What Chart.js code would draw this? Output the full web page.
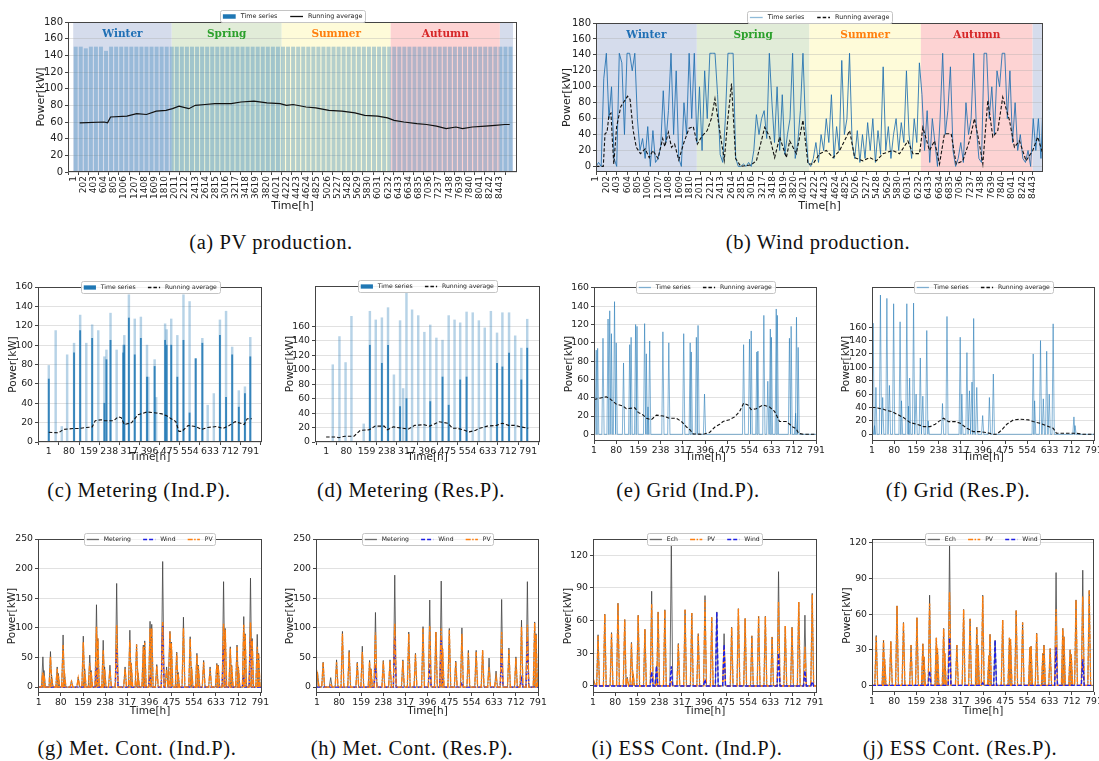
<!DOCTYPE html>
<html>
<head>
<meta charset="utf-8">
<script src="https://cdn.jsdelivr.net/npm/chart.js@4.4.1/dist/chart.umd.min.js"></script>
<style>
  body { margin: 0; background: #fff; width: 1099px; height: 761px; position: relative; overflow: hidden; }
  canvas { position: absolute; }
  .cap { position: absolute; font-family: "Liberation Serif", serif; font-size: 20.5px; letter-spacing: 0.6px;
         color: #111; transform: translate(-50%, -50%); white-space: nowrap; }
</style>
</head>
<body>
<div class="cap" style="left:271px;top:242px">(a) PV production.</div>
<div class="cap" style="left:818px;top:242px">(b) Wind production.</div>
<div class="cap" style="left:139px;top:490px">(c) Metering (Ind.P).</div>
<div class="cap" style="left:411px;top:490px">(d) Metering (Res.P).</div>
<div class="cap" style="left:688px;top:490px">(e) Grid (Ind.P).</div>
<div class="cap" style="left:958px;top:490px">(f) Grid (Res.P).</div>
<div class="cap" style="left:137px;top:748px">(g) Met. Cont. (Ind.P).</div>
<div class="cap" style="left:412px;top:748px">(h) Met. Cont. (Res.P).</div>
<div class="cap" style="left:687px;top:748px">(i) ESS Cont. (Ind.P).</div>
<div class="cap" style="left:960px;top:748px">(j) ESS Cont. (Res.P).</div>
<script>
// ---- tick labels ----
const yearTicks = [1, 202, 403, 604, 805, 1006, 1207, 1408, 1609, 1810, 2011, 2212, 2413, 2614, 2815, 3016,
  3217, 3418, 3619, 3820, 4021, 4222, 4423, 4624, 4825, 5026, 5227, 5428, 5629, 5830, 6031, 6232, 6433,
  6634, 6835, 7036, 7237, 7438, 7639, 7840, 8041, 8242, 8443];
const monthTicks = [1, 80, 159, 238, 317, 396, 475, 554, 633, 712, 791];
const yTicksYear = [0, 20, 40, 60, 80, 100, 120, 140, 160, 180];
const yTicks160 = [0, 20, 40, 60, 80, 100, 120, 140, 160];
const yTicks250 = [0, 50, 100, 150, 200, 250];
const yTicks120 = [0, 30, 60, 90, 120];

// ---- seasons ----
const seasonNames = ['Winter', 'Spring', 'Summer', 'Autumn', ''];
const seasonStart = [1, 1950, 4125, 6280, 8440];
const seasonEnd = [1950, 4125, 6280, 8440, 8700];
const seasonFill = ['#d5dcec', '#e1ecd8', '#fefbd9', '#fdd3d3', '#d5dcec'];
const seasonText = ['#1f6fb4', '#2ca02c', '#ff7f0e', '#d62728', '#1f6fb4'];

// ---- (a) PV production: bars every 100 h, running average ----
const pvBars = [150, 150, 148, 150, 150, 150, 145, 150, 150, 150, 150, 150, 150, 150, 150, 150, 150, 150,
  150, 150, 150, 150, 150, 150, 150, 150, 150, 150, 150, 150, 150, 150, 150, 150, 150, 150, 150, 150, 150,
  150, 150, 150, 150, 150, 150, 150, 150, 150, 150, 150, 150, 150, 150, 150, 150, 150, 150, 150, 150, 150,
  150, 150, 150, 150, 150, 150, 150, 150, 150, 150, 150, 150, 150, 150, 150, 150, 150, 150, 150, 150, 150,
  150, 150, 150, 150, 150, 150];
const pvAvgHours = [130, 612, 680, 740, 1063, 1257, 1450, 1643, 1836, 1965, 2094, 2288, 2416, 2610, 2803,
  3125, 3318, 3576, 3834, 4092, 4220, 4349, 4607, 4800, 5058, 5316, 5573, 5766, 6024, 6218, 6347, 6540,
  6798, 6991, 7185, 7378, 7571, 7700, 7894, 8151, 8344, 8537, 8634];
const pvAvgVals = [59, 60, 59, 66, 67, 70, 69, 73, 74, 76, 79, 76, 80, 81, 82, 82, 84, 85, 83, 82, 80, 81,
  78, 77, 74, 73, 71, 68, 67, 65, 62, 60, 58, 57, 55, 52, 54, 52, 54, 55, 56, 57, 57];

// ---- (b) Wind production: samples every 50 h, running average ----
const windSeries = [0, 5, 0, 110, 142, 60, 100, 10, 0, 142, 130, 40, 142, 142, 120, 142, 60, 20, 35, 10,
  50, 0, 45, 5, 10, 25, 95, 30, 70, 142, 40, 120, 10, 0, 80, 40, 142, 60, 142, 30,
  100, 20, 120, 60, 142, 142, 142, 90, 15, 5, 60, 142, 142, 142, 10, 0, 0, 3, 0, 5,
  0, 20, 65, 40, 60, 70, 35, 142, 80, 30, 100, 20, 90, 15, 40, 60, 142, 10, 30, 70,
  142, 50, 5, 0, 10, 30, 5, 40, 20, 60, 30, 90, 10, 50, 20, 133, 40, 60, 142, 30,
  10, 45, 5, 40, 10, 55, 20, 60, 5, 45, 15, 125, 20, 50, 10, 40, 60, 20, 55, 30,
  120, 40, 10, 60, 30, 130, 90, 20, 70, 5, 60, 30, 0, 60, 142, 40, 70, 125, 20, 0,
  10, 30, 5, 80, 40, 60, 142, 50, 10, 5, 142, 142, 60, 100, 40, 120, 100, 142, 142, 60,
  120, 30, 80, 20, 40, 10, 5, 20, 0, 60, 20, 60, 10, 100];
const windAvgHours = [1, 142, 175, 215, 250, 290, 320, 345, 400, 480, 560, 610, 660, 720, 780, 860, 950,
  1030, 1100, 1200, 1290, 1330, 1400, 1460, 1520, 1600, 1700, 1800, 1880, 1960, 2050, 2150, 2230, 2300,
  2380, 2480, 2550, 2620, 2700, 2800, 3000, 3101, 3197, 3261, 3358, 3454, 3551, 3680, 3744, 3873, 4001,
  4098, 4194, 4323, 4452, 4581, 4710, 4903, 5000, 5160, 5289, 5418, 5546, 5739, 5868, 6029, 6126, 6254,
  6318, 6447, 6543, 6640, 6736, 6865, 6962, 7090, 7219, 7316, 7412, 7477, 7573, 7670, 7766, 7862, 7991,
  8088, 8185, 8313, 8442, 8538, 8635];
const windAvgVals = [0, 0, 41, 43, 64, 67, 30, 3, 50, 75, 83, 88, 84, 45, 24, 16, 22, 11, 20, 10, 35, 25,
  43, 24, 28, 8, 30, 48, 50, 28, 38, 45, 60, 85, 50, 8, 60, 104, 10, 0, 2, 7, 32, 49, 37, 11, 37, 11, 32,
  16, 58, 3, 3, 16, 20, 11, 20, 45, 11, 7, 11, 7, 16, 20, 16, 32, 16, 16, 49, 20, 32, 3, 41, 41, 3, 7, 32,
  60, 28, 3, 83, 37, 45, 87, 58, 24, 32, 7, 20, 37, 16];

// ---- (c) Metering Ind.P ----
const metIndBarHours = [1, 28, 52, 73, 100, 124, 148, 171, 195, 219, 227, 243, 267, 293, 297, 315, 338, 362,
  386, 391, 416, 422, 457, 463, 481, 505, 529, 553, 577, 603, 624, 648, 672, 696, 720, 746, 770, 791];
const metIndBarPeak = [79, 115, 16, 90, 102, 131, 102, 121, 115, 88, 95, 133, 95, 100, 110, 152, 127, 129,
  100, 67, 85, 46, 122, 116, 127, 110, 152, 145, 86, 107, 38, 50, 126, 135, 98, 53, 57, 108];
const metIndBarCore = [65, 0, 0, 0, 92, 115, 0, 107, 0, 40, 85, 105, 0, 92, 100, 128, 90, 107, 67, 0, 78, 0,
  105, 100, 100, 67, 105, 30, 86, 102, 0, 0, 110, 46, 90, 36, 50, 88];
const metIndAvg = [[1, 10], [40, 9.5], [58, 13], [100, 14], [118, 14], [148, 15], [171, 15.5], [183, 22],
  [207, 23], [219, 22], [255, 22], [273, 26], [285, 25], [297, 18], [326, 20], [350, 28], [386, 31],
  [422, 30], [445, 29], [463, 27], [499, 21], [511, 11], [523, 11], [547, 17], [577, 16], [600, 13],
  [624, 15], [660, 16], [684, 14], [708, 17], [732, 21], [756, 19], [767, 18], [779, 24], [797, 24]];

// ---- (d) Metering Res.P ----
const metResBarHours = [27, 53, 77, 100, 148, 172, 195, 219, 243, 266, 290, 302, 315, 337, 361, 385, 408, 432,
  456, 480, 503, 525, 550, 574, 598, 621, 645, 669, 690, 716, 740, 764, 787];
const metResBarPeak = [107, 146, 110, 174, 25, 181, 169, 172, 186, 93, 168, 74, 206, 183, 175, 152, 162, 144,
  141, 175, 169, 165, 180, 179, 168, 158, 181, 151, 179, 179, 147, 130, 170];
const metResBarCore = [0, 0, 0, 0, 0, 134, 0, 109, 134, 0, 49, 0, 60, 0, 0, 0, 56, 0, 90, 51, 0, 86, 90, 0, 0,
  0, 0, 109, 104, 123, 0, 86, 130];
const metResAvg = [[1, 7], [39, 7], [51, 6], [75, 8], [110, 8], [122, 12], [134, 16], [170, 17], [193, 22],
  [228, 22], [240, 17], [264, 21], [299, 19], [323, 18], [347, 23], [382, 24], [406, 22], [442, 28],
  [477, 26], [495, 19], [513, 19], [536, 17], [560, 14], [584, 16], [601, 19], [631, 22], [667, 23],
  [690, 26], [714, 23], [738, 23], [761, 21], [791, 19]];

// ---- (e) Grid Ind.P ----
const gridIndHours = [9, 14, 33, 51, 57, 63, 74, 80, 106, 128, 133, 149, 154, 181, 187, 193, 199, 246, 267,
  320, 343, 347, 365, 371, 394, 533, 554, 560, 580, 584, 605, 619, 628, 632, 649, 653, 696, 702, 718, 721, 727];
const gridIndPeak = [92, 94, 105, 126, 135, 110, 145, 100, 78, 98, 106, 120, 118, 121, 88, 30, 102, 112, 100,
  110, 100, 90, 106, 119, 44, 98, 104, 113, 90, 91, 130, 58, 115, 106, 137, 130, 105, 118, 23, 128, 95];
const gridIndAvg = [[1, 38], [21, 39.5], [45, 41], [57, 39], [80, 33], [104, 31], [116, 28], [146, 29],
  [158, 24], [176, 21], [188, 17.5], [205, 16], [223, 21], [247, 20], [270, 17.5], [294, 17.5], [312, 14],
  [330, 8], [342, 5], [354, 0.4], [390, 0], [412, 2], [431, 8], [448, 11], [460, 14], [483, 16], [501, 19],
  [519, 25], [533, 34], [548, 32], [560, 27], [578, 28], [602, 32], [625, 30], [643, 25], [661, 14],
  [685, 14], [708, 8], [720, 6], [729, 1], [745, 0], [797, 0]];

// ---- (f) Grid Res.P ----
const gridResHours = [5, 10, 15, 31, 39, 54, 63, 78, 101, 106, 125, 131, 135, 149, 158, 173, 182, 196, 201,
  252, 268, 315, 321, 339, 348, 357, 363, 374, 395, 419, 433, 575, 580, 601, 611, 623, 632, 646, 720, 724];
const gridResPeak = [166, 13, 70, 208, 55, 203, 73, 195, 168, 50, 195, 42, 84, 196, 60, 114, 57, 155, 20,
  46, 176, 145, 60, 122, 65, 78, 173, 70, 28, 55, 90, 120, 50, 140, 53, 124, 60, 165, 26, 13];
const gridResAvg = [[1, 40], [13, 40], [24, 39], [42, 37.5], [54, 35.5], [72, 34], [90, 30], [113, 25],
  [137, 17.5], [161, 15], [185, 11.5], [208, 11.5], [226, 15], [238, 19], [256, 24], [273, 19], [297, 19],
  [315, 16.5], [339, 9], [362, 4], [386, 4], [410, 2.5], [433, 0], [445, 0], [463, 6.5], [481, 15],
  [504, 21.5], [528, 22.5], [558, 21.5], [575, 19], [599, 16.5], [623, 12.5], [646, 9], [658, 1.5],
  [682, 1.5], [729, 1.5], [753, 0], [797, 0]];

// ---- (g) Met. Cont. Ind.P ----
const mcIndHours = [16, 20, 43, 47, 67, 71, 88, 93, 118, 142, 160, 165, 183, 188, 207, 212, 231, 236, 255,
  279, 309, 326, 331, 350, 355, 374, 379, 398, 404, 422, 443, 457, 469, 474, 493, 498, 517, 541, 546, 565,
  570, 589, 612, 636, 641, 660, 666, 684, 689, 708, 713, 732, 737, 756, 762, 780, 785];
const mcIndMeter = [51, 28, 60, 20, 34, 23, 88, 25, 11, 17, 86, 31, 54, 28, 139, 82, 79, 34, 37, 175, 34, 96,
  40, 72, 24, 71, 78, 111, 106, 38, 212, 34, 94, 76, 59, 25, 118, 85, 34, 57, 37, 45, 34, 40, 37, 178, 99,
  68, 37, 71, 34, 119, 90, 184, 82, 89, 57];
const mcIndPV = [25, 20, 51, 15, 31, 20, 71, 22, 9, 15, 76, 28, 40, 25, 102, 82, 62, 30, 28, 105, 31, 79, 38,
  72, 22, 68, 75, 99, 100, 36, 110, 30, 94, 74, 57, 23, 100, 82, 32, 54, 35, 42, 31, 38, 35, 107, 97, 65,
  35, 68, 32, 105, 88, 109, 79, 68, 55];
const mcIndWindHours = [207, 279, 398, 443, 660, 732, 756];
const mcIndWind = [34, 65, 20, 105, 71, 17, 82];

// ---- (h) Met. Cont. Res.P ----
const mcResHours = [3, 23, 50, 71, 92, 116, 145, 163, 189, 194, 210, 238, 262, 279, 308, 329, 353, 380, 404,
  426, 445, 450, 474, 497, 519, 542, 570, 593, 616, 641, 661, 687, 712, 732, 753, 779, 784];
const mcResMeter = [25, 42, 16, 46, 94, 62, 42, 69, 45, 31, 126, 45, 46, 189, 46, 93, 57, 102, 147, 93, 179,
  65, 99, 44, 100, 62, 62, 62, 49, 27, 148, 66, 51, 113, 178, 110, 90];
const mcResPV = [20, 41, 6, 42, 90, 59, 40, 59, 42, 29, 92, 43, 44, 107, 44, 90, 55, 99, 103, 93, 99, 65, 96,
  42, 90, 58, 59, 62, 34, 17, 93, 63, 49, 102, 105, 109, 88];
const mcResWindHours = [210, 279, 404, 445, 519, 661, 732, 753];
const mcResWind = [37, 85, 41, 84, 8, 57, 14, 79];

// ---- (i) ESS Cont. Ind.P ----
const essIndHours = [5, 19, 43, 67, 90, 114, 123, 138, 144, 162, 186, 210, 227, 233, 257, 280, 305, 329, 353,
  376, 400, 424, 442, 468, 495, 519, 543, 567, 591, 615, 639, 662, 686, 710, 734, 756, 782];
const essIndEch = [4, 47, 66, 49, 76, 61, 8, 40, 11, 65, 52, 87, 18, 68, 70, 131, 39, 70, 67, 48, 83, 63, 68,
  48, 54, 71, 62, 46, 64, 64, 45, 105, 55, 54, 77, 65, 85];
const essIndPV = [4, 46, 66, 48, 76, 61, 7, 39, 10, 65, 52, 75, 2, 68, 70, 5, 38, 70, 67, 48, 79, 63, 0, 36,
  54, 71, 62, 46, 64, 64, 45, 77, 55, 54, 77, 36, 84];
const essIndWindHours = [210, 227, 280, 400, 442, 468, 662, 756, 782];
const essIndWind = [13, 18, 18, 6, 68, 38, 30, 14, 4];

// ---- (j) ESS Cont. Res.P ----
const essResHours = [16, 42, 46, 68, 90, 113, 140, 161, 182, 186, 206, 230, 234, 256, 260, 277, 303, 327, 350,
  374, 378, 395, 417, 421, 439, 466, 490, 494, 514, 537, 563, 567, 587, 609, 613, 635, 656, 680, 684, 706,
  710, 727, 751, 774];
const essResEch = [42, 38, 22, 37, 67, 53, 34, 57, 35, 24, 76, 40, 31, 48, 27, 119, 34, 64, 56, 49, 34, 76, 25,
  43, 38, 55, 40, 39, 63, 53, 32, 33, 44, 27, 34, 31, 95, 48, 41, 30, 26, 72, 97, 80];
const essResPV = [41, 38, 22, 37, 67, 53, 34, 57, 35, 24, 69, 40, 31, 48, 27, 79, 34, 64, 56, 49, 34, 75, 25,
  43, 0, 55, 40, 39, 63, 53, 32, 33, 44, 27, 34, 31, 64, 48, 41, 30, 26, 72, 75, 80];
const essResWindHours = [206, 277, 395, 439, 656, 751];
const essResWind = [12, 40, 2, 38, 32, 22];

// ---- colours ----
const BLUE = '#1f77b4';
const ORANGE = '#ff7f0e';
const WINDBLUE = '#1f1fe6';
const GREY = 'rgba(60,60,60,0.75)';

Chart.defaults.font.family = 'DejaVu Sans';

// helpers that turn the arrays into {x, y} points
function xy(hours, vals) { return hours.map((h, i) => ({ x: h, y: vals[i] })); }
function pairs(list) { return list.map(p => ({ x: p[0], y: p[1] })); }
// daily bursts: zero at night, peak value at the listed hour
function spikes(hours, vals, half, x0, x1) {
  const pts = [{ x: x0, y: 0 }];
  hours.forEach((h, i) => {
    pts.push({ x: h - half, y: 0 }, { x: h, y: vals[i] }, { x: h + half, y: 0 });
  });
  pts.push({ x: x1, y: 0 });
  return pts;
}

// season bands behind the yearly plots
const seasonPlugin = {
  id: 'seasons',
  beforeDraw(chart, args, opts) {
    if (!opts.show) return;
    const { ctx, chartArea: a, scales: { x } } = chart;
    ctx.save();
    seasonStart.forEach((s, i) => {
      const x0 = Math.max(a.left, x.getPixelForValue(s));
      const x1 = Math.min(a.right, x.getPixelForValue(seasonEnd[i]));
      ctx.fillStyle = seasonFill[i];
      ctx.fillRect(x0, a.top, x1 - x0, a.bottom - a.top);
    });
    ctx.restore();
  },
  beforeDatasetsDraw(chart, args, opts) {
    if (!opts.show) return;
    const { ctx, scales: { x, y } } = chart;
    ctx.save();
    ctx.font = 'bold 10.5px "DejaVu Serif"';
    ctx.textAlign = 'center';
    ctx.textBaseline = 'middle';
    seasonNames.forEach((n, i) => {
      if (!n) return;
      ctx.fillStyle = seasonText[i];
      ctx.fillText(n, x.getPixelForValue((seasonStart[i] + seasonEnd[i]) / 2), y.getPixelForValue(165));
    });
    ctx.restore();
  }
};

// full box around the plot, like matplotlib spines
const framePlugin = {
  id: 'frame',
  afterDatasetsDraw(chart) {
    const { ctx, chartArea: a } = chart;
    ctx.save();
    ctx.strokeStyle = '#444';
    ctx.lineWidth = 1;
    ctx.strokeRect(Math.round(a.left) + 0.5, Math.round(a.top) + 0.5,
      Math.round(a.right - a.left) - 1, Math.round(a.bottom - a.top) - 1);
    ctx.restore();
  }
};

// framed legend centred on the top edge of the plot
const boxLegend = {
  id: 'boxLegend',
  afterDraw(chart, args, o) {
    const { ctx, chartArea: a } = chart;
    const items = chart.data.datasets.filter(d => d.label);
    const fs = o.size;
    ctx.save();
    ctx.font = fs + 'px "DejaVu Sans"';
    const handle = 2 * fs, tp = 0.8 * fs, cs = 2 * fs, pad = 0.45 * fs;
    const widths = items.map(d => ctx.measureText(d.label).width);
    const w = 2 * pad + widths.reduce((s, v) => s + v + handle + tp, 0) + cs * (items.length - 1);
    const h = Math.round(fs * 1.95);
    const left = Math.round((a.left + a.right) / 2 - w / 2);
    const top = Math.round(o.above ? a.top - h : a.top - h / 2);
    ctx.fillStyle = 'rgba(255,255,255,0.92)';
    ctx.strokeStyle = '#c4c4c4';
    ctx.lineWidth = 1;
    ctx.beginPath();
    ctx.roundRect(left + 0.5, top + 0.5, Math.round(w), h, 2);
    ctx.fill();
    ctx.stroke();
    const cy = top + 0.5 + h / 2;
    let x = left + pad;
    items.forEach((d, i) => {
      if (d.type === 'bar') {
        ctx.fillStyle = d.legendColor || d.backgroundColor;
        ctx.fillRect(x, cy - fs * 0.35, handle, fs * 0.7);
      } else {
        ctx.strokeStyle = d.legendColor || d.borderColor;
        ctx.lineWidth = 1.3;
        ctx.setLineDash(d.borderDash || []);
        ctx.beginPath();
        ctx.moveTo(x, cy);
        ctx.lineTo(x + handle, cy);
        ctx.stroke();
        ctx.setLineDash([]);
      }
      x += handle + tp;
      ctx.fillStyle = '#222';
      ctx.textBaseline = 'middle';
      ctx.fillText(d.label, x, cy);
      x += widths[i] + cs;
    });
    ctx.restore();
  }
};

function panel(box, o) {
  const [l, t, r, b] = box;
  const lh = o.titleSize * 1.2;
  const cl = Math.round(o.yTitleX - lh / 2);
  const ct = t - o.padTop;
  const cr = Math.min(1099, r + o.padRight);
  const cb = Math.round(o.xTitleY + lh / 2);
  const cv = document.createElement('canvas');
  cv.width = cr - cl;
  cv.height = cb - ct;
  cv.style.left = cl + 'px';
  cv.style.top = ct + 'px';
  document.body.appendChild(cv);
  const yW = l - cl, xH = cb - b;
  const tickFont = { family: 'DejaVu Sans', size: o.tickSize };
  const titleFont = { family: 'DejaVu Sans', size: o.titleSize };
  new Chart(cv, {
    type: 'line',
    data: { datasets: o.datasets },
    plugins: [seasonPlugin, framePlugin, boxLegend],
    options: {
      responsive: false,
      animation: false,
      devicePixelRatio: 1,
      events: [],
      layout: { padding: { left: 0, top: o.padTop, right: cr - r, bottom: 0 } },
      elements: { point: { radius: 0 }, line: { borderWidth: 1, tension: 0 } },
      scales: {
        x: {
          type: 'linear', min: o.xMin, max: o.xMax,
          afterBuildTicks: s => { s.ticks = o.xTicks.map(v => ({ value: v })); },
          afterFit: s => { s.height = xH; s.paddingLeft = 0; s.paddingRight = 0; },
          grid: { drawOnChartArea: false, tickLength: 3, tickColor: '#444' },
          border: { display: false },
          ticks: { autoSkip: false, minRotation: o.rot, maxRotation: o.rot, padding: 1, color: '#222',
                   font: tickFont, callback: v => String(v) },
          title: { display: true, text: 'Time[h]', padding: 0, color: '#222', font: titleFont }
        },
        y: {
          type: 'linear', min: o.yMin, max: o.yMax,
          afterBuildTicks: s => { s.ticks = o.yTicks.map(v => ({ value: v })); },
          afterFit: s => { s.width = yW; s.paddingTop = 0; s.paddingBottom = 0; },
          grid: { color: 'rgba(170,170,170,0.35)', tickLength: 3, tickColor: '#444' },
          border: { display: false },
          ticks: { padding: 2, color: '#222', font: o.yTickFont || tickFont, callback: v => String(v) },
          title: { display: true, text: 'Power[kW]', padding: 0, color: '#222', font: titleFont }
        }
      },
      plugins: {
        legend: { display: false },
        tooltip: { enabled: false },
        seasons: { show: !!o.seasons },
        boxLegend: { size: o.legendSize, above: !!o.legendAbove }
      }
    }
  });
}

const row1 = { tickSize: 9, yTickFont: { family: 'DejaVu Sans', size: 10 }, titleSize: 11, padTop: 16,
  padRight: 8, xTitleY: 206, xTicks: yearTicks, yTicks: yTicksYear, rot: 90, legendSize: 6.4,
  legendAbove: true, seasons: true, xMin: 1 };
const row2 = { tickSize: 9.3, titleSize: 10.5, padTop: 8, padRight: 10, xTitleY: 458, xTicks: monthTicks,
  rot: 0, legendSize: 6.1 };
const row3 = Object.assign({}, row2, { xTitleY: 712 });

function avgLine(list, dash) {
  return { label: 'Running average', data: pairs(list), borderColor: '#111', borderWidth: 1.1,
           borderDash: dash, order: 1 };
}
function tsBars(hours, peak, core) {
  return [
    { type: 'bar', label: 'Time series', data: xy(hours, peak), backgroundColor: 'rgba(31,119,180,0.32)',
      legendColor: BLUE, barThickness: 1.8, grouped: false, order: 3 },
    { type: 'bar', data: xy(hours, core), backgroundColor: 'rgba(31,119,180,0.85)',
      barThickness: 1.2, grouped: false, order: 2 }
  ];
}
function tsLine(data) {
  return { label: 'Time series', data: data, borderColor: 'rgba(31,119,180,0.55)',
           legendColor: 'rgba(31,119,180,0.55)', borderWidth: 1, order: 2 };
}
function contLines(names, hours, grey, pv, wHours, wind, x0, x1) {
  const g = { label: names[0], data: spikes(hours, grey, 5, x0, x1), borderColor: GREY, borderWidth: 1 };
  const p = { label: 'PV', data: spikes(hours, pv, 5, x0, x1), borderColor: ORANGE, borderWidth: 1.4,
              borderDash: [5, 1.5, 1.5, 1.5] };
  const w = { label: 'Wind', data: spikes(wHours, wind, 5, x0, x1), borderColor: WINDBLUE, borderWidth: 1.4,
              borderDash: [4, 2] };
  return names[1] === 'Wind'
    ? [Object.assign(g, { order: 3 }), Object.assign(w, { order: 2 }), Object.assign(p, { order: 1 })]
    : [Object.assign(g, { order: 3 }), Object.assign(p, { order: 2 }), Object.assign(w, { order: 1 })];
}

// (a)
panel([68, 22, 517, 172], Object.assign({}, row1, {
  yTitleX: 42, xMax: 8675, yMin: 0, yMax: 180,
  datasets: [
    { type: 'bar', label: 'Time series', data: pvBars.map((v, i) => ({ x: 50 + 100 * i, y: v })),
      backgroundColor: 'rgba(31,119,180,0.33)', legendColor: BLUE, barThickness: 3.3, order: 2 },
    { label: 'Running average', data: xy(pvAvgHours, pvAvgVals), borderColor: '#111', borderWidth: 1.2, order: 1 }
  ]
}));
// (b)
panel([596, 23, 1043, 172], Object.assign({}, row1, {
  yTitleX: 568, xMax: 8640, yMin: -7, yMax: 180,
  datasets: [
    { label: 'Time series', data: windSeries.map((v, i) => ({ x: 1 + 50 * i, y: v })),
      borderColor: 'rgba(31,110,175,0.85)', legendColor: 'rgba(31,119,180,0.5)', borderWidth: 1, order: 2 },
    avgLine(windAvgHours.map((h, i) => [h, windAvgVals[i]]), [3.5, 2])
  ]
}));
// (c)
panel([38, 287, 262, 442], Object.assign({}, row2, {
  yTitleX: 13, xMin: -1.4, xMax: 797, yMin: 0, yMax: 160, yTicks: yTicks160,
  datasets: tsBars(metIndBarHours, metIndBarPeak, metIndBarCore).concat([avgLine(metIndAvg, [3.5, 2])])
}));
// (d)
panel([315, 286, 540, 442], Object.assign({}, row2, {
  yTitleX: 290, xMin: -2.5, xMax: 797, yMin: 0, yMax: 216, yTicks: yTicks160,
  datasets: tsBars(metResBarHours, metResBarPeak, metResBarCore).concat([avgLine(metResAvg, [3.5, 2])])
}));
// (e)
panel([594, 287, 817, 441], Object.assign({}, row2, {
  yTitleX: 569, xMin: 1, xMax: 794, yMin: -7.3, yMax: 161, yTicks: yTicks160,
  datasets: [tsLine(spikes(gridIndHours, gridIndPeak, 4, 1, 797)), avgLine(gridIndAvg, [3.5, 2])]
}));
// (f)
panel([872, 287, 1095, 441], Object.assign({}, row2, {
  yTitleX: 846, xMin: 1, xMax: 795, yMin: -10, yMax: 220, yTicks: yTicks160,
  datasets: [tsLine(spikes(gridResHours, gridResPeak, 4, 1, 797)), avgLine(gridResAvg, [3.5, 2])]
}));
// (g)
panel([38, 539, 262, 693], Object.assign({}, row3, {
  yTitleX: 12, xMin: -1.4, xMax: 797, yMin: -10, yMax: 250, yTicks: yTicks250,
  datasets: contLines(['Metering', 'Wind'], mcIndHours, mcIndMeter, mcIndPV, mcIndWindHours, mcIndWind, 1, 797)
}));
// (h)
panel([316, 539, 539, 693], Object.assign({}, row3, {
  yTitleX: 290, xMin: -2.5, xMax: 794.5, yMin: -10, yMax: 250, yTicks: yTicks250,
  datasets: contLines(['Metering', 'Wind'], mcResHours, mcResMeter, mcResPV, mcResWindHours, mcResWind, 1, 797)
}));
// (i)
panel([593, 539, 817, 693], Object.assign({}, row3, {
  yTitleX: 568, xMin: 1, xMax: 799, yMin: -6.5, yMax: 135, yTicks: yTicks120,
  datasets: contLines(['Ech', 'PV'], essIndHours, essIndEch, essIndPV, essIndWindHours, essIndWind, 1, 799)
}));
// (j)
panel([872, 539, 1094, 692], Object.assign({}, row3, {
  yTitleX: 847, xMin: 1, xMax: 791, yMin: -5.6, yMax: 123.3, yTicks: yTicks120,
  datasets: contLines(['Ech', 'PV'], essResHours, essResEch, essResPV, essResWindHours, essResWind, 1, 791)
}));
</script>
</body>
</html>
